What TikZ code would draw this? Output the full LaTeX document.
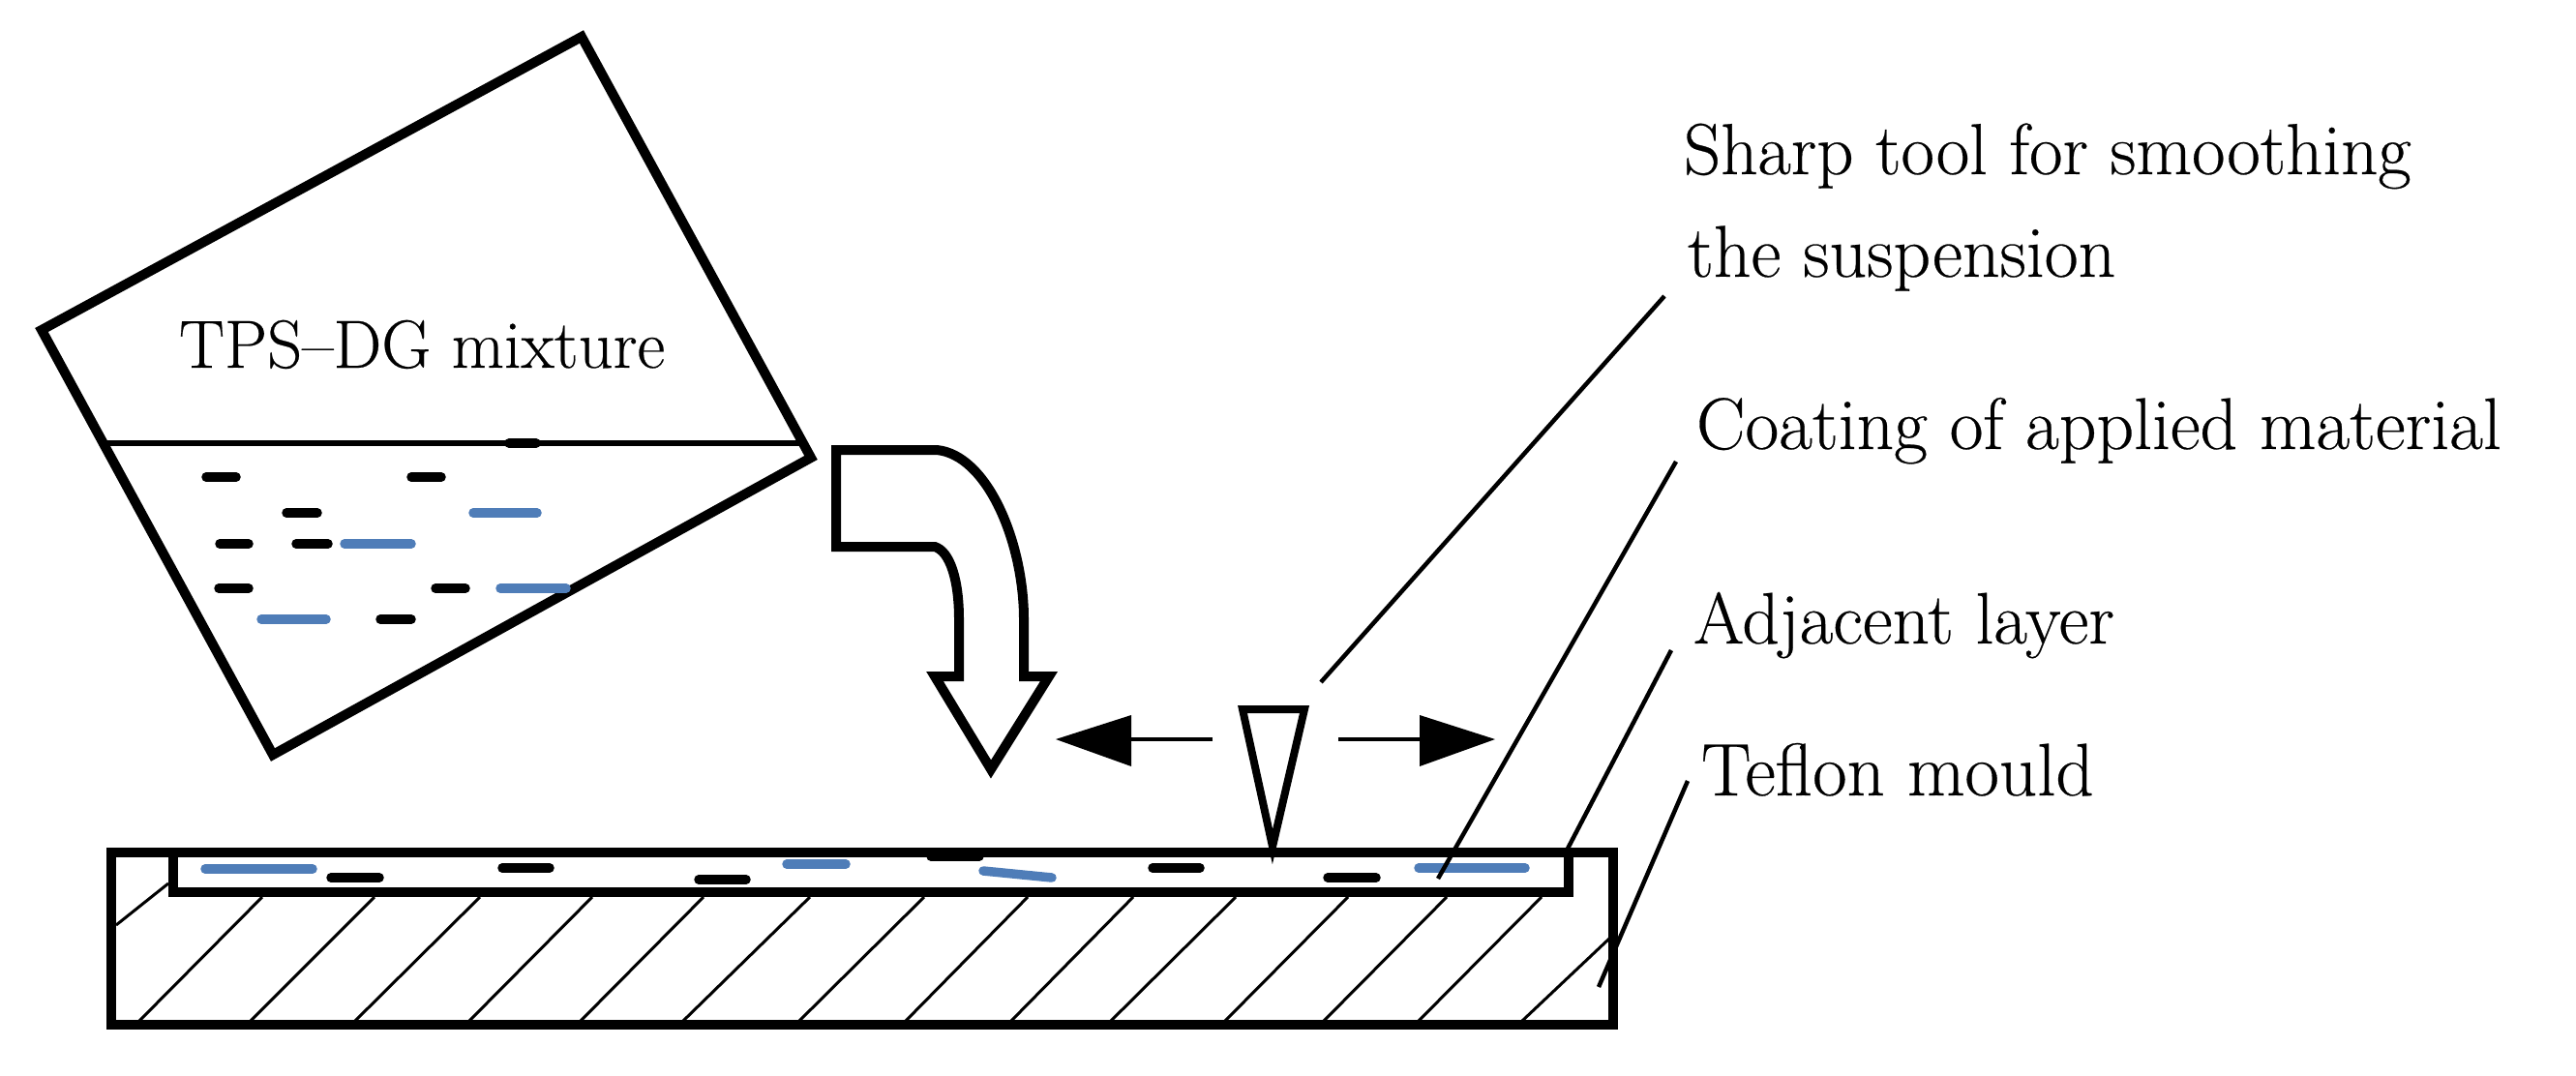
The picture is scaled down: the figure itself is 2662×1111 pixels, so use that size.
\documentclass[tikz,border=0pt]{standalone}
\usepackage{fontspec}
\setmainfont{Latin Modern Roman}
\definecolor{fibre}{HTML}{4F7DB8}
\newcommand{\lblfont}[1]{\fontsize{#1}{#1}\selectfont\addfontfeature{FakeBold=0.35}}
\tikzset{
  outline/.style={draw=black,line width=10pt,miter limit=20},
  thinline/.style={draw=black,line width=6pt},
  hatchline/.style={draw=black,line width=3pt},
  leader/.style={draw=black,line width=4.5pt},
  movearrow/.style={draw=black,line width=3.5pt},
  blackbit/.style={draw=black,line width=9.5pt,line cap=round},
  bluebit/.style={draw=fibre,line width=9.5pt,line cap=round},
  label/.style={anchor=base west,inner sep=0pt,outer sep=0pt,text=black}
}
\begin{document}
\begin{tikzpicture}[x=1pt,y=-1pt]
\useasboundingbox (0,0) rectangle (2662,1111);
% mould hatching
\foreach \a/\b/\c/\d in {120/956/174/913,144/1055/271/927,259/1055/387/927,367/1055/496/927,485/1055/612/927,600/1055/727/927,706/1055/837/927,826/1055/955/927,936/1055/1062/927,1045/1055/1171/927,1148/1055/1277/927,1266/1055/1393/927,1368/1055/1495/927,1466/1055/1593/927,1573/1055/1663/970}
  \draw[hatchline] (\a,\b) -- (\c,\d);
% mould
\draw[outline] (115,881) rectangle (1667,1059);
\draw[outline] (179,881) -- (179,922) -- (1621,922) -- (1621,881);
% beaker
\draw[outline] (601,38) -- (43,341) -- (282,780) -- (838,473) -- cycle;
\draw[thinline] (109,458) -- (828,458);
\draw[blackbit] (526,458) -- (554,458);
% beaker contents
\foreach \a/\b/\c in {213/244/493,425/456/493,296/328/530,227/257/562,306/339/562,226/257/608,450/481/608,393/425/640}
  \draw[blackbit] (\a,\c) -- (\b,\c);
\foreach \a/\b/\c in {489/555/530,356/425/562,517/585/608,270/337/640}
  \draw[bluebit] (\a,\c) -- (\b,\c);
% layer contents
\foreach \a/\b/\c in {342/392/907,519/568/897,722/771/909,962/1012/885,1191/1240/897,1372/1422/907}
  \draw[blackbit] (\a,\c) -- (\b,\c);
\foreach \a/\b/\c/\d in {212/898/323/898,813/893/874/893,1016/900/1087/907,1466/897/1576/897}
  \draw[bluebit] (\a,\b) -- (\c,\d);
% pouring arrow
\draw[outline] (864,465) -- (968,465)
  .. controls (1020,470) and (1058,560) .. (1058,640)
  -- (1058,699) -- (1084,699) -- (1024,795) -- (966,699) -- (991,699) -- (991,640)
  .. controls (991,600) and (982,570) .. (966,565)
  -- (864,565) -- cycle;
% tool
\draw[outline,line width=8pt] (1284,733) -- (1348,733) -- (1315,875) -- cycle;
% movement arrows
\coordinate (leftfrom) at (1253,764);
\coordinate (leftbase) at (1169,764);
\coordinate (rightfrom) at (1383,764);
\coordinate (rightbase) at (1467,764);
\draw[movearrow] (leftfrom) -- (leftbase);
\draw[movearrow] (rightfrom) -- (rightbase);
\fill[black] (1091,764) -- (1169,739) -- (1169,792) -- cycle;
\fill[black] (1545,764) -- (1467,739) -- (1467,792) -- cycle;
% labels
\node[label,font=\lblfont{70.4}] (mix) at (185,380) {TPS--DG mixture};
\node[label,font=\lblfont{74.8}] (sharp) at (1740,180) {Sharp tool for smoothing};
\node[label,font=\lblfont{75.8}] (susp) at (1744,286) {the suspension};
\node[label,font=\lblfont{75.6}] (coat) at (1753,464) {Coating of applied material};
\node[label,font=\lblfont{75.4}] (adj) at (1750,665) {Adjacent layer};
\node[label,font=\lblfont{77}] (tef) at (1758,822) {Teflon mould};
% leaders
\coordinate (toolend) at (1365,705);
\coordinate (coatend) at (1486,908);
\coordinate (adjend) at (1620,877);
\coordinate (tefend) at (1652,1020);
\draw[leader] (1720,306) -- (toolend);
\draw[leader] (1732,477) -- (coatend);
\draw[leader] (1727,672) -- (adjend);
\draw[leader] (1744,807) -- (tefend);
\end{tikzpicture}
\end{document}
